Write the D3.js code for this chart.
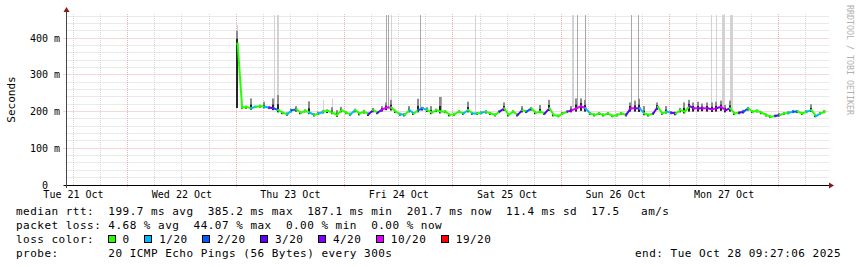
<!DOCTYPE html>
<html><head><meta charset="utf-8">
<script src="https://cdn.jsdelivr.net/npm/d3@7"></script>
<style>
html,body{margin:0;padding:0;background:#fff;}
svg{display:block;}
text{font-family:"DejaVu Sans Mono",monospace;white-space:pre;}
</style></head><body>
<svg id="c" width="857" height="267"></svg>
<script>
// ---------- data ----------
const startTime = "2025-10-23T00:20:00Z";
const stepMinutes = 60;
const median = [385,211,213,209,213,215,213,211,209,204,
197,193,204,206,197,202,197,191,195,200,
202,197,191,204,197,193,204,195,200,193,
204,197,206,211,211,200,193,191,204,195,
204,209,204,197,204,200,200,191,193,200,
195,204,195,195,197,200,195,191,200,209,
191,200,191,204,200,209,197,200,195,209,
191,188,195,200,204,209,215,209,195,191,
195,191,195,188,191,195,191,209,209,209,
195,191,195,213,195,200,197,195,204,200,
215,209,209,209,209,206,209,213,204,209,
195,197,200,209,200,202,197,191,186,188,
191,195,197,200,200,195,200,204,188,195,
200];
const loss = [0,0,0,0,1,0,0,1,4,2,
0,0,1,2,0,0,0,1,0,1,
0,0,0,0,0,0,1,0,0,0,
3,0,3,5,5,0,0,1,0,1,
0,2,1,0,0,0,0,0,0,0,
0,1,0,1,0,1,0,0,0,3,
0,0,0,3,0,2,0,0,0,3,
0,0,0,0,4,5,5,5,1,0,
0,0,0,0,0,0,0,3,5,4,
1,0,0,3,0,0,1,3,0,0,
0,4,5,4,5,4,5,4,5,3,
0,0,3,2,0,0,0,0,0,0,
3,0,0,1,2,0,0,1,0,1,
0];
const pingMax = [420,214,216,236,216,219,227,214,236,245,
201,198,208,215,201,206,228,196,200,204,
206,212,204,213,201,197,208,199,205,198,
210,201,215,225,232,205,197,196,215,199,
235,213,212,215,208,240,204,195,197,204,
199,227,199,199,201,204,199,195,204,225,
196,204,195,215,204,212,201,218,199,232,
195,192,199,204,215,236,236,232,199,195,
199,195,199,192,195,199,195,225,230,235,
215,195,199,225,199,215,201,200,210,225,
232,225,227,222,225,225,227,230,218,230,
199,201,205,213,204,206,201,195,190,192,
196,199,201,204,204,199,204,220,192,199,
204];
const pingMin = [210,207,208,205,210,211,209,207,204,198,
193,189,198,200,193,198,193,187,191,195,
196,193,186,198,193,189,198,190,195,188,
198,193,200,204,203,196,189,187,198,191,
198,203,199,193,199,195,196,187,189,196,
191,198,191,191,193,195,191,187,196,202,
187,196,187,198,196,203,193,196,191,202,
187,185,191,196,198,200,202,200,191,187,
191,187,191,185,187,191,187,200,200,199,
190,187,191,205,191,195,193,190,198,195,
200,200,200,201,200,199,200,202,198,200,
191,193,195,203,196,198,193,187,183,185,
187,191,193,196,196,191,196,199,185,191,
196];
// isolated outlier pings (tall smoke)
const spikeTimes = ["2025-10-23T00:15Z","2025-10-23T08:23Z","2025-10-23T09:10Z","2025-10-23T19:14Z","2025-10-23T21:26Z",
"2025-10-24T09:20Z","2025-10-24T09:41Z","2025-10-24T10:26Z","2025-10-24T16:55Z","2025-10-24T21:21Z",
"2025-10-25T05:02Z","2025-10-26T02:30Z","2025-10-26T03:27Z","2025-10-26T05:26Z","2025-10-26T15:37Z",
"2025-10-26T17:10Z","2025-10-27T09:07Z","2025-10-27T10:26Z","2025-10-27T11:40Z","2025-10-27T13:20Z"];
const spikeMinutes = [12,10,25,12,12, 12,12,12,12,12, 10,25,12,12,12, 12,12,12,35,35];
const spikeTop = [436,463,463,232,236, 463,463,463,463,240, 463,463,463,463,463, 463,463,463,463,463];
const spikeBottom = [395,215,210,200,200, 212,212,212,210,200, 200,212,212,212,205, 205,205,205,205,205];
const spikePings = [1,1,1,1,1, 2,2,1,2,2, 1,1,2,2,2, 2,1,1,1,1];

const lossLabels = ["0","1/20","2/20","3/20","4/20","10/20","19/20"];
const lossColors = ["#26ff00","#00b8ff","#0059ff","#5e00ff","#7e00ff","#dd00ff","#ff0000"];
const yTicks = [0,100,200,300,400];
const dayLabels = ["Tue 21 Oct","Wed 22 Oct","Thu 23 Oct","Fri 24 Oct","Sat 25 Oct","Sun 26 Oct","Mon 27 Oct"];
const dayNoons = ["2025-10-21T12:00Z","2025-10-22T12:00Z","2025-10-23T12:00Z","2025-10-24T12:00Z","2025-10-25T12:00Z","2025-10-26T12:00Z","2025-10-27T12:00Z"];
const legendRtt = "median rtt:  199.7 ms avg  385.2 ms max  187.1 ms min  201.7 ms now  11.4 ms sd  17.5   am/s";
const legendLoss = "packet loss: 4.68 % avg  44.07 % max  0.00 % min  0.00 % now";
const legendProbe = "probe:       20 ICMP Echo Pings (56 Bytes) every 300s";
const legendEnd = "end: Tue Oct 28 09:27:06 2025";

// ---------- chart ----------
const svg = d3.select("#c");
const L = 66.5, R = 829, T = 14, B = 185;
const x = d3.scaleUtc().domain([new Date("2025-10-21T10:27:18Z"), new Date("2025-10-28T11:13:30Z")]).range([L, R]);
const y = d3.scaleLinear().domain([0, 466]).range([B, T]);
const px = v => Math.floor(v) + 0.5;

svg.append("rect").attr("width",857).attr("height",267).attr("fill","#fff");

const grid = svg.append("g");
// horizontal grid
d3.range(20, 466, 20).forEach(v => {
  const major = v % 100 === 0;
  grid.append("line").attr("x1", major ? L-3 : L).attr("x2", R)
    .attr("y1", px(y(v))).attr("y2", px(y(v)))
    .attr("stroke", major ? "#eeb0b0" : "#d4d4d4").attr("stroke-dasharray","1,1");
});
// vertical grid
x.ticks(d3.utcHour.every(6)).forEach(t => {
  const major = t.getUTCHours() === 0;
  grid.append("line").attr("x1", px(x(t))).attr("x2", px(x(t)))
    .attr("y1", T).attr("y2", major ? B+3 : B)
    .attr("stroke", major ? "#eeb0b0" : "#d4d4d4").attr("stroke-dasharray","1,1");
});

const t0 = new Date(startTime).getTime();
const times = median.map((_, i) => new Date(t0 + i*stepMinutes*60000));

// tall outlier smoke
const sp = svg.append("g");
spikeTimes.forEach((s, i) => {
  const a = new Date(s), b = new Date(a.getTime() + spikeMinutes[i]*60000);
  const x0 = Math.floor(x(a)), w = Math.max(1, Math.round(x(b) - x(a)));
  sp.append("rect").attr("x", x0).attr("width", w)
    .attr("y", y(spikeTop[i])).attr("height", y(spikeBottom[i]) - y(spikeTop[i]))
    .attr("fill", spikePings[i] > 1 ? "#a8a8a8" : "#d2d2d2");
});

// smoke
const sm = svg.append("g");
times.forEach((t, i) => {
  const cx = Math.floor(x(t));
  const upInner = median[i] + 0.4*(pingMax[i] - median[i]);
  sm.append("rect").attr("x", cx-1).attr("width", 2)
    .attr("y", y(pingMax[i])).attr("height", y(upInner) - y(pingMax[i])).attr("fill", "#8c8c8c");
  sm.append("rect").attr("x", cx-1).attr("width", 2)
    .attr("y", y(upInner)).attr("height", y(pingMin[i]) - y(upInner)).attr("fill", "#262626");
});

// median line coloured by loss
const ml = svg.append("g");
for (let i = 1; i < median.length; i++) {
  ml.append("line")
    .attr("x1", x(times[i-1])).attr("y1", y(median[i-1]))
    .attr("x2", x(times[i])).attr("y2", y(median[i]))
    .attr("stroke", lossColors[loss[i]]).attr("stroke-width", 2).attr("stroke-linecap","square");
}
ml.append("rect").attr("x", x(times[0])-1).attr("y", y(median[0])-1).attr("width",2).attr("height",2).attr("fill", lossColors[loss[0]]);

// axes
svg.append("line").attr("x1", L-3).attr("x2", R+1).attr("y1", B+0.5).attr("y2", B+0.5).attr("stroke","#000");
svg.append("line").attr("x1", L).attr("x2", L).attr("y1", B+3).attr("y2", 10).attr("stroke","#444");
svg.append("path").attr("d", `M${R},${B-2.5}L${R+5},${B+0.5}L${R},${B+3.5}Z`).attr("fill","#8b1a1a");
svg.append("path").attr("d", `M${L-3},${12}L${L},${7}L${L+3},${12}Z`).attr("fill","#8b1a1a");

// y labels
yTicks.forEach(v => {
  svg.append("text").attr("x", 60).attr("y", y(v)).attr("dy","0.35em")
    .attr("text-anchor","end").attr("font-size", 10).attr("fill","#000")
    .attr("xml:space","preserve").text(v === 0 ? "0  " : v + " m");
});
// x labels
dayLabels.forEach((d, i) => {
  svg.append("text").attr("x", x(new Date(dayNoons[i]))).attr("y", 198)
    .attr("text-anchor","middle").attr("font-size", 10).attr("fill","#000").text(d);
});
// axis title
svg.append("text").attr("transform","translate(15,99.5) rotate(-90)")
  .attr("text-anchor","middle").attr("font-size", 11).attr("fill","#000").text("Seconds");
// watermark
svg.append("text").attr("transform","translate(846.5,5) rotate(90)")
  .attr("font-size", 8.3).attr("fill","#b0b0b0").text("RRDTOOL / TOBI OETIKER");

// legend
const lg = svg.append("g").attr("font-size", 11).attr("letter-spacing", "0.48px").attr("fill","#000");
const row = (s, yy) => lg.append("text").attr("x", 16).attr("y", yy).attr("xml:space","preserve").text(s);
row(legendRtt, 215);
row(legendLoss, 229);
row("loss color:", 243);
let lx = 108.3;
lossLabels.forEach((lab, i) => {
  lg.append("rect").attr("x", Math.floor(lx)+0.5).attr("y", 235.5).attr("width", 7).attr("height", 7)
    .attr("fill", lossColors[i]).attr("stroke","#000");
  const tx = lx + 14.3;
  lg.append("text").attr("x", tx).attr("y", 243).text(lab);
  lx = tx + lab.length*7.1 + 15.2;
});
row(legendProbe, 257);
lg.append("text").attr("x", 841).attr("y", 257).attr("text-anchor","end").attr("xml:space","preserve").text(legendEnd);
</script>
</body></html>
